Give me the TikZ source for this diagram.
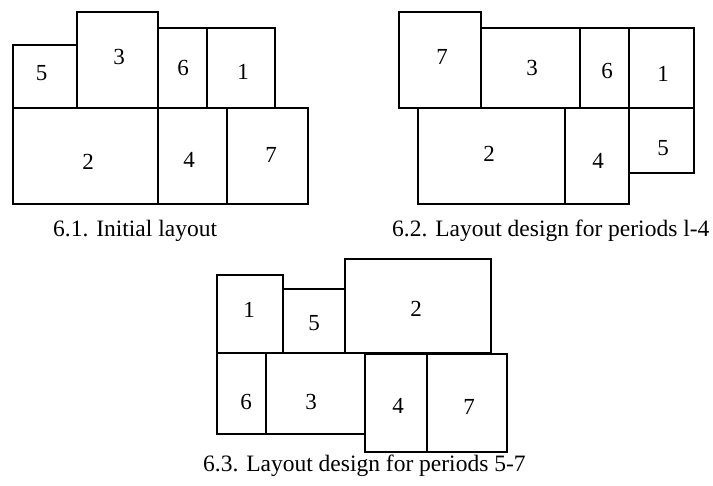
\documentclass[tikz,border=0pt]{standalone}
\usepackage{fontspec}
\setmainfont{Liberation Serif}
\begin{document}
\begin{tikzpicture}[x=1pt,y=-1pt,
  boxline/.style={draw=black,line width=1.4pt},
  num/.style={inner sep=0pt,font=\fontsize{23}{27}\selectfont},
  captext/.style={inner sep=0pt,anchor=base west,font=\fontsize{23.5}{28}\selectfont}]
\useasboundingbox (0,0) rectangle (713,486);
% Layout 6.1
\draw[boxline] (13,45) rectangle (77,108);
\draw[boxline] (77,12) rectangle (158,108);
\draw[boxline] (158,28) rectangle (207,108);
\draw[boxline] (207,28) rectangle (275,108);
\draw[boxline] (13,108) rectangle (158,204);
\draw[boxline] (158,108) rectangle (227,204);
\draw[boxline] (227,108) rectangle (308,204);
\node[num] (a5) at (41.7,73) {5};
\node[num] (a3) at (119,57) {3};
\node[num] (a6) at (183,68) {6};
\node[num] (a1) at (243,72) {1};
\node[num] (a2) at (88,162) {2};
\node[num] (a4) at (189,160) {4};
\node[num] (a7) at (271,155) {7};
% Layout 6.2
\draw[boxline] (399,12) rectangle (481,108);
\draw[boxline] (481,28) rectangle (580,108);
\draw[boxline] (580,28) rectangle (629,108);
\draw[boxline] (629,28) rectangle (694,108);
\draw[boxline] (418,108) rectangle (565,204);
\draw[boxline] (565,108) rectangle (629,204);
\draw[boxline] (629,108) rectangle (694,173);
\node[num] (b7) at (442,57) {7};
\node[num] (b3) at (532,68) {3};
\node[num] (b6) at (607,71) {6};
\node[num] (b1) at (663,74) {1};
\node[num] (b2) at (489,154) {2};
\node[num] (b4) at (598,161) {4};
\node[num] (b5) at (663,148) {5};
% Layout 6.3
\draw[boxline] (217,275) rectangle (283,353);
\draw[boxline] (283,289) rectangle (345,353);
\draw[boxline] (345,259) rectangle (491,353);
\draw[boxline] (217,353) rectangle (266,434);
\draw[boxline] (266,353) rectangle (365,434);
\draw[boxline] (365,354) rectangle (427,452);
\draw[boxline] (427,354) rectangle (507,452);
\node[num] (c1) at (249,310) {1};
\node[num] (c5) at (314,323) {5};
\node[num] (c2) at (416,309) {2};
\node[num] (c6) at (246,402) {6};
\node[num] (c3) at (311,402) {3};
\node[num] (c4) at (398,406) {4};
\node[num] (c7) at (469,407) {7};
% Captions
\node[captext] (capA) at (53,236.7) {6.1. Initial layout};
\node[captext] (capB) at (392,236.7) {6.2. Layout design for periods l-4};
\node[captext] (capC) at (203,472) {6.3. Layout design for periods 5-7};
\end{tikzpicture}
\end{document}
